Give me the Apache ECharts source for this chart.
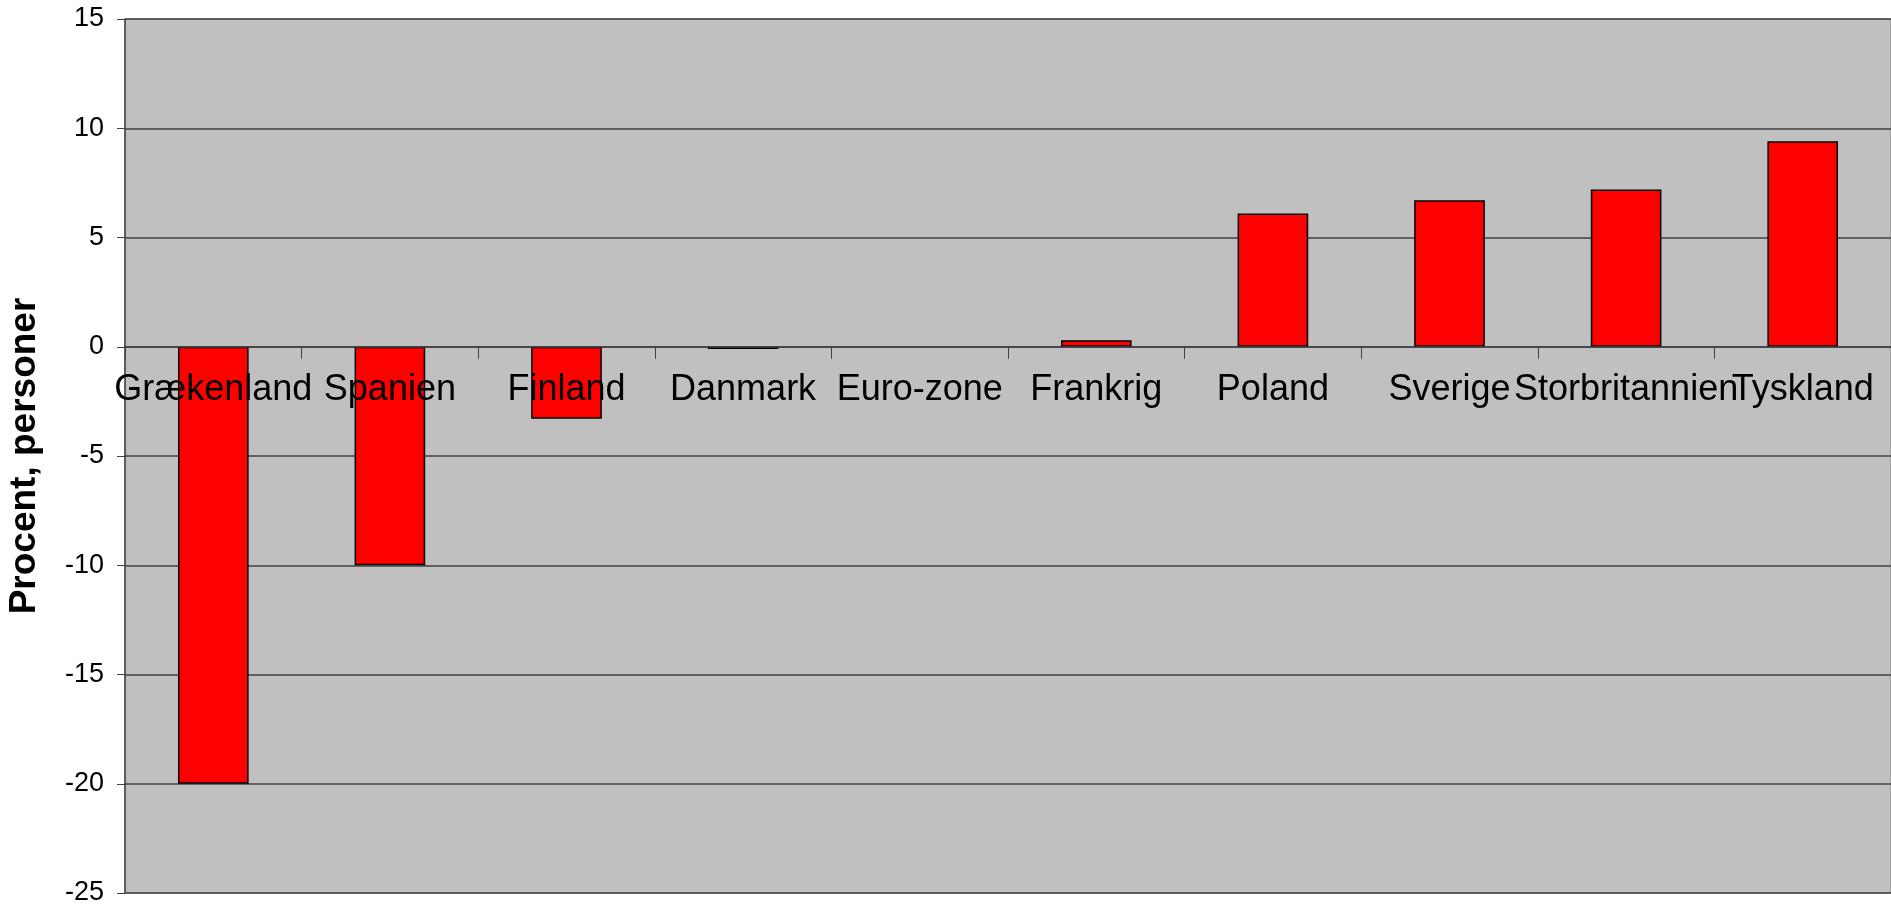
<!DOCTYPE html>
<html>
<head>
<meta charset="utf-8">
<script src="https://cdn.jsdelivr.net/npm/echarts@6/dist/echarts.min.js"></script>
<style>
  html, body { margin: 0; padding: 0; background: #ffffff; }
  #chart { width: 1891px; height: 904px; }
</style>
</head>
<body>
<div id="chart"></div>
<script>
// Countries along the category axis
const countries = ['Grækenland', 'Spanien', 'Finland', 'Danmark', 'Euro-zone', 'Frankrig', 'Poland', 'Sverige', 'Storbritannien', 'Tyskland'];
// Change in percent (persons); Euro-zone has no bar
const values = [-20, -10, -3.3, -0.1, null, 0.3, 6.1, 6.7, 7.2, 9.4];
// Value axis range and step
const yMin = -25;
const yMax = 15;
const yStep = 5;
const yTitle = 'Procent, personer';

const font = "'Liberation Sans', Arial, sans-serif";

const chart = echarts.init(document.getElementById('chart'), null, { renderer: 'canvas' });

chart.setOption({
  animation: false,
  backgroundColor: '#ffffff',
  grid: {
    left: 125,
    right: 0,
    top: 19,
    bottom: 11,
    outerBoundsMode: 'none',
    containLabel: false,
    show: true,
    backgroundColor: '#C0C0C0',
    borderColor: '#808080',
    borderWidth: 1
  },
  xAxis: {
    type: 'category',
    data: countries,
    position: 'bottom',
    offset: 0,
    z: 10,
    boundaryGap: true,
    axisLine: { show: true, onZero: false, lineStyle: { color: '#404040', width: 1.5 } },
    axisTick: { show: true, length: 12, inside: false, lineStyle: { color: '#404040', width: 1 } },
    axisLabel: {
      interval: 0,
      margin: 25,
      color: '#000000',
      fontFamily: font,
      fontSize: 36
    },
    splitLine: { show: false }
  },
  yAxis: {
    type: 'value',
    min: yMin,
    max: yMax,
    interval: yStep,
    name: yTitle,
    nameLocation: 'middle',
    nameGap: 82,
    nameTextStyle: {
      fontFamily: font,
      fontSize: 37,
      fontWeight: 'bold',
      color: '#000000'
    },
    axisLine: { show: true, lineStyle: { color: '#404040', width: 1.5 } },
    axisTick: { show: true, length: 8, inside: false, lineStyle: { color: '#404040', width: 1 } },
    axisLabel: {
      margin: 21,
      color: '#000000',
      fontFamily: font,
      fontSize: 27
    },
    splitLine: { show: true, lineStyle: { color: '#404040', width: 1.5 } }
  },
  series: [{
    type: 'bar',
    data: values,
    barWidth: '40%',
    itemStyle: {
      color: '#FF0000',
      borderColor: '#000000',
      borderWidth: 1.5
    }
  }]
});

// Lift the whole category axis (line, ticks and labels) up to the value-axis zero line
const zeroY = chart.convertToPixel({ yAxisIndex: 0 }, 0);
const bottomY = chart.convertToPixel({ yAxisIndex: 0 }, yMin);
chart.setOption({ xAxis: { offset: -(bottomY - zeroY) } });
</script>
</body>
</html>
